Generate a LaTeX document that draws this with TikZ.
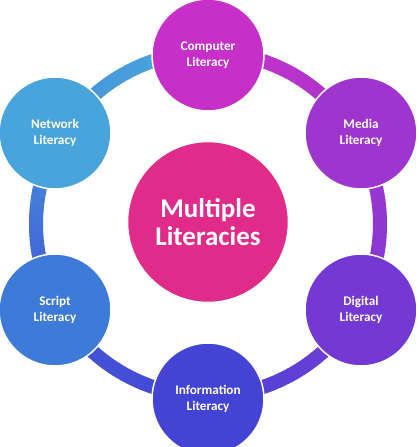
\documentclass[tikz,border=0pt]{standalone}
\usepackage{fontspec}
\setmainfont{Carlito}
\definecolor{cComp}{HTML}{C630C9}
\definecolor{cMedia}{HTML}{9E35CE}
\definecolor{cDigi}{HTML}{7439D3}
\definecolor{cInfo}{HTML}{4343D4}
\definecolor{cScript}{HTML}{3E7AD8}
\definecolor{cNet}{HTML}{48A4DA}
\definecolor{cCenter}{HTML}{E02B8A}
% ring gradient stops, clockwise from the top
\definecolor{r0}{HTML}{C832C8}
\definecolor{r1}{HTML}{A535CD}
\definecolor{r2}{HTML}{7A3AD6}
\definecolor{r3}{HTML}{4545D6}
\definecolor{r4}{HTML}{4058D6}
\definecolor{r5}{HTML}{4690DA}
\definecolor{r6}{HTML}{4AABDB}
\begin{document}
\begin{tikzpicture}[x=1pt,y=-1pt,
  lit/.style={circle, draw=white, line width=1.5pt, minimum size=112pt, inner sep=0pt,
    text=white, align=center, font=\fontsize{13.2}{15.5}\selectfont\bfseries},
  hub/.style={circle, draw=white, line width=1.5pt, minimum size=161pt, inner sep=0pt,
    fill=cCenter, text=white, align=center, font=\fontsize{27}{28.5}\selectfont\bfseries},
  ringseg/.style={line width=14pt, line cap=butt}]
\clip (0,0) rectangle (418,447);
\coordinate (ring) at (208,224);
% gradient ring
\foreach \s [evaluate=\s as \n using int(\s+1)] in {0,...,5}{
  \foreach \k in {0,...,59}{
    \pgfmathtruncatemacro\p{\k*100/60}
    \pgfmathtruncatemacro\t{\s*60+\k}
    \draw[ringseg, color=r\n!\p!r\s] (ring) ++(-90+\t:172)
      arc[start angle=-90+\t, end angle=-90+\t+1.3, radius=172];
  }
}
\node[hub] (center) at (208,222) {Multiple\\Literacies};
\node[lit, fill=cComp] (comp) at (208,55) {Computer\\Literacy};
\node[lit, fill=cMedia] (media) at (361,133) {Media\\Literacy};
\node[lit, fill=cDigi] (digi) at (361,310) {Digital\\Literacy};
\node[lit, fill=cInfo] (info) at (208,399) {Information\\Literacy};
\node[lit, fill=cScript] (script) at (55,310) {Script\\Literacy};
\node[lit, fill=cNet] (net) at (55,133) {Network\\Literacy};
\end{tikzpicture}
\end{document}
